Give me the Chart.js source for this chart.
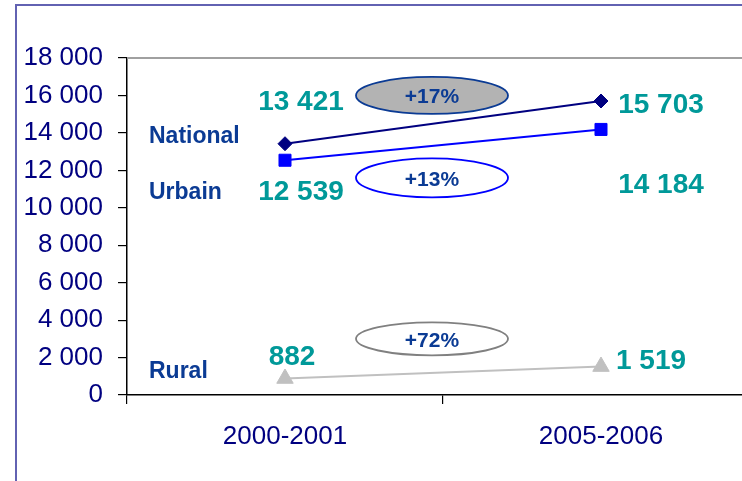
<!DOCTYPE html>
<html lang="fr">
<head>
    <meta charset="UTF-8">
    <title>National / Urbain / Rural</title>
    <script src="https://cdn.jsdelivr.net/npm/chart.js"></script>
    <style>
        html, body { margin: 0; padding: 0; background: #fff; overflow: hidden; }
        #wrap { position: relative; width: 742px; height: 481px; overflow: hidden; }
        #frame { position: absolute; left: 15px; top: 4px; width: 900px; height: 600px;
                 border-left: 2px solid #6262b2; border-top: 2px solid #6262b2; }
        #chart { position: absolute; left: 0; top: 0; }
    </style>
</head>
<body>
    <div id="wrap">
        <div id="frame"></div>
        <canvas id="chart" width="800" height="481"></canvas>
    </div>

    <script>
        // data
        const years = ["2000-2001", "2005-2006"];
        const seriesNames = ["National", "Urbain", "Rural"];
        const national = [13421, 15703];
        const urbain = [12539, 14184];
        const rural = [882, 1519];
        const yTicks = [0, 2000, 4000, 6000, 8000, 10000, 12000, 14000, 16000, 18000];
        const changes = ["+17%", "+13%", "+72%"];

        const fmt = v => String(v).replace(/\B(?=(\d{3})+(?!\d))/g, " ");

        // value labels: offset from point, series name offset from first point
        const valueOffsets = [
            [[16, -34], [60, 12]],
            [[16, 40], [60, 64]],
            [[7, -13], [50, 2]]
        ];
        const nameOffsets = [-1, 39, 0];
        // ellipse centres (y in data units) and styles
        const ovals = [
            { y: 16000, ry: 18.5, fill: "#b3b3b3", stroke: "#0b3b94" },
            { y: 11600, ry: 19.5, fill: "#ffffff", stroke: "#0000ff" },
            { y: 3000, ry: 16.5, fill: "#ffffff", stroke: "#808080" }
        ];

        const annotations = {
            id: "annotations",
            beforeDatasetsDraw(chart) {
                const { ctx, chartArea } = chart;
                ctx.save();
                ctx.strokeStyle = "#a0a0a0";
                ctx.lineWidth = 2;
                ctx.beginPath();
                ctx.moveTo(chartArea.left, chartArea.top);
                ctx.lineTo(chartArea.right, chartArea.top);
                ctx.stroke();
                ctx.restore();
            },
            afterDraw(chart) {
                const { ctx, chartArea } = chart;
                const xs = chart.scales.x, ys = chart.scales.y;
                ctx.save();

                // ellipses with change %
                const cx = (xs.getPixelForValue(0) + xs.getPixelForValue(1)) / 2 - 11;
                ovals.forEach((o, i) => {
                    const cy = ys.getPixelForValue(o.y);
                    ctx.beginPath();
                    ctx.ellipse(cx, cy, 76, o.ry, 0, 0, Math.PI * 2);
                    ctx.fillStyle = o.fill;
                    ctx.fill();
                    ctx.lineWidth = 1.8;
                    ctx.strokeStyle = o.stroke;
                    ctx.stroke();
                    ctx.fillStyle = "#0b3b94";
                    ctx.font = "bold 21px 'Liberation Sans', Arial, sans-serif";
                    ctx.textAlign = "center";
                    ctx.textBaseline = "alphabetic";
                    ctx.fillText(changes[i], cx, cy + 8);
                });

                // value labels + series names
                chart.data.datasets.forEach((ds, i) => {
                    const meta = chart.getDatasetMeta(i);
                    meta.data.forEach((pt, j) => {
                        const [dx, dy] = valueOffsets[i][j];
                        ctx.fillStyle = "#009999";
                        ctx.font = "bold 28px 'Liberation Sans', Arial, sans-serif";
                        ctx.textAlign = "center";
                        ctx.fillText(fmt(ds.data[j]), pt.x + dx, pt.y + dy);
                    });
                    ctx.fillStyle = "#0b3b94";
                    ctx.font = "bold 23px 'Liberation Sans', Arial, sans-serif";
                    ctx.textAlign = "left";
                    ctx.fillText(seriesNames[i], chartArea.left + 22, meta.data[0].y + nameOffsets[i]);
                });
                ctx.restore();
            }
        };

        new Chart(document.getElementById("chart"), {
            type: "line",
            data: {
                labels: years,
                datasets: [
                    { label: seriesNames[0], data: national, borderColor: "#000080", backgroundColor: "#000080",
                      borderWidth: 2, pointStyle: "rectRot", pointRadius: 7, pointBorderWidth: 1 },
                    { label: seriesNames[1], data: urbain, borderColor: "#0000ff", backgroundColor: "#0000ff",
                      borderWidth: 2, pointStyle: "rect", pointRadius: 8.5, pointBorderWidth: 1 },
                    { label: seriesNames[2], data: rural, borderColor: "#c0c0c0", backgroundColor: "#c0c0c0",
                      borderWidth: 2, pointStyle: "triangle", pointRadius: 9.5, pointBorderWidth: 1 }
                ]
            },
            options: {
                responsive: false,
                animation: false,
                events: [],
                layout: { padding: { top: 58, right: 41, bottom: 0, left: 0 } },
                plugins: { legend: { display: false }, tooltip: { enabled: false } },
                scales: {
                    x: {
                        offset: true,
                        grid: { offset: true, drawOnChartArea: false, tickLength: 9, color: "#000", lineWidth: 1.2 },
                        border: { color: "#000", width: 1.5 },
                        ticks: { color: "#000080", padding: 17, font: { family: "'Liberation Sans', Arial, sans-serif", size: 26 } },
                        afterFit(scale) { scale.height = 86; }
                    },
                    y: {
                        min: yTicks[0],
                        max: yTicks[yTicks.length - 1],
                        afterBuildTicks(scale) { scale.ticks = yTicks.map(v => ({ value: v })); },
                        grid: { drawOnChartArea: false, tickLength: 9, color: "#000", lineWidth: 1.2 },
                        border: { color: "#000", width: 1.5 },
                        ticks: { color: "#000080", padding: 15, callback: v => fmt(v),
                                 font: { family: "'Liberation Sans', Arial, sans-serif", size: 26 } },
                        afterFit(scale) { scale.width = 127; }
                    }
                }
            },
            plugins: [annotations]
        });
    </script>
</body>
</html>
